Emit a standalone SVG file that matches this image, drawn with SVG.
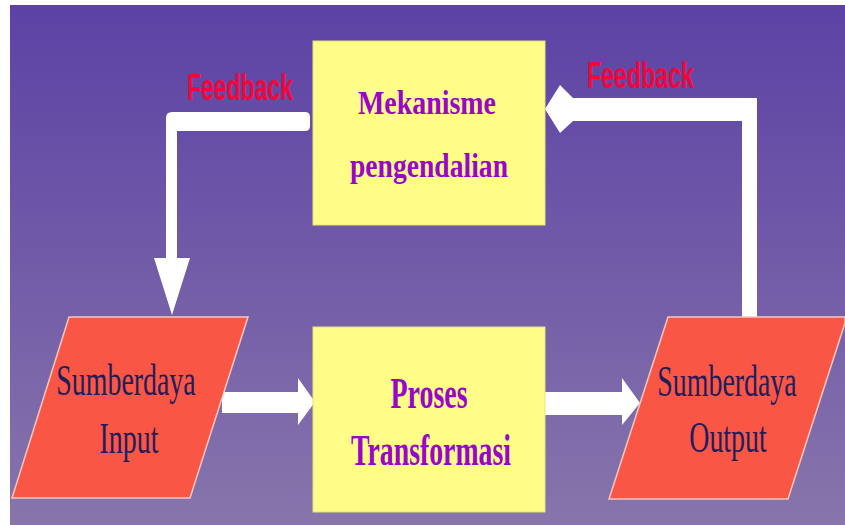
<svg xmlns="http://www.w3.org/2000/svg" width="845" height="525" viewBox="0 0 845 525">
<defs>
<linearGradient id="bg" x1="0" y1="0" x2="0" y2="1">
<stop offset="0" stop-color="#5C42A5"/>
<stop offset="1" stop-color="#8775AB"/>
</linearGradient>
<style>
.box{fill:#FFFD88;stroke:#E8E27A;stroke-width:1}
.para{fill:#F95646;stroke:#F6C7BE;stroke-width:1.5}
.arrow{fill:#FFFFFF}
.fb{font-family:"Liberation Sans",Arial,sans-serif;font-weight:bold;font-size:37px;fill:#F2073B}
.bt{font-family:"Liberation Serif","Times New Roman",serif;font-weight:bold;fill:#9A05CC;text-anchor:middle}
.pt{font-family:"Liberation Serif","Times New Roman",serif;font-size:45px;fill:#1E1E5C;text-anchor:middle}
</style>
</defs>
<rect x="0" y="0" width="845" height="525" fill="#FFFFFF"/>
<rect x="10" y="5" width="835" height="520" fill="url(#bg)"/>
<g id="connectors">
<path class="arrow" d="M 305,112 Q 310,112 310,117 V 126 Q 310,131 305,131 H 177 V 258 H 190 L 172,315 L 154,258 H 166 V 118 Q 166,112 172,112 Z"/>
<path class="arrow" d="M 545,109 L 560,85 L 573,98 H 757 V 318 H 742 V 121 H 573 L 560,133 Z"/>
<path class="arrow" d="M 222,392 H 298 V 378 L 315,402 L 298,425 V 413 H 222 Z"/>
<path class="arrow" d="M 542,392 H 622 V 378 L 640,403 L 622,425 V 415 H 542 Z"/>
<text class="fb" x="187" y="100" textLength="106" lengthAdjust="spacingAndGlyphs">Feedback</text>
<text class="fb" x="587" y="88" textLength="107" lengthAdjust="spacingAndGlyphs">Feedback</text>
</g>
<g id="mekanisme">
<rect class="box" x="313" y="41" width="232" height="184"/>
<text class="bt" x="427" y="114" font-size="34" textLength="138" lengthAdjust="spacingAndGlyphs">Mekanisme</text>
<text class="bt" x="429" y="177" font-size="34" textLength="158" lengthAdjust="spacingAndGlyphs">pengendalian</text>
</g>
<g id="proses">
<rect class="box" x="313" y="327" width="232" height="185"/>
<text class="bt" x="429" y="408" font-size="44" textLength="77" lengthAdjust="spacingAndGlyphs">Proses</text>
<text class="bt" x="431" y="465" font-size="44" textLength="160" lengthAdjust="spacingAndGlyphs">Transformasi</text>
</g>
<g id="input">
<polygon class="para" points="69,317 248,317 190,498 12,498"/>
<text class="pt" transform="translate(126,395) scale(0.62,1)">Sumberdaya</text>
<text class="pt" transform="translate(129,453) scale(0.62,1)">Input</text>
</g>
<g id="output">
<polygon class="para" points="668,317 845,317 845,323 788,499 609,499"/>
<text class="pt" transform="translate(727,396) scale(0.62,1)">Sumberdaya</text>
<text class="pt" transform="translate(728,452) scale(0.62,1)">Output</text>
</g>
</svg>
